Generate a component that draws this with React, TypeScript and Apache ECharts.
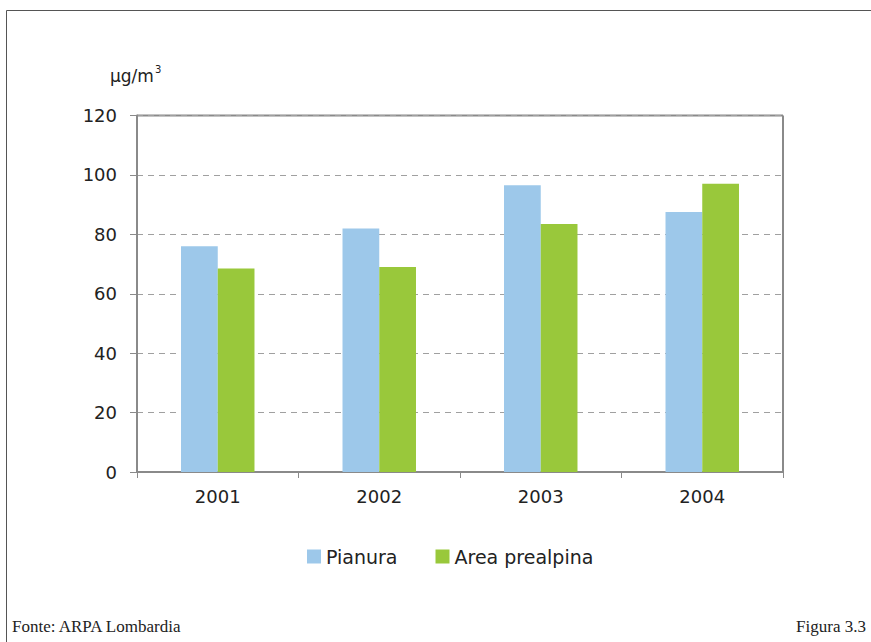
import React, { useEffect, useRef } from "react";
import * as echarts from "echarts";

// Annual values per zone (µg/m³)
const years = ["2001", "2002", "2003", "2004"];
const pianura = [76, 82, 96.5, 87.5];
const areaPrealpina = [68.5, 69, 83.5, 97];
const yTicks = { min: 0, max: 120, interval: 20 };

const W = 871;
const H = 642;

export default function App() {
  const ref = useRef<HTMLDivElement>(null);

  useEffect(() => {
    document.body.style.margin = "0";
    const chart = echarts.init(ref.current!, undefined, { renderer: "svg" });
    const axisFont = "DejaVu Sans, Verdana, sans-serif";
    const serif = "Liberation Serif, serif";
    chart.setOption({
      animation: false,
      backgroundColor: "#ffffff",
      grid: { left: 137, top: 115.5, width: 646, height: 356.5, containLabel: false },
      legend: {
        left: 302,
        top: 542,
        itemWidth: 14,
        itemHeight: 14,
        itemGap: 38,
        icon: "rect",
        textStyle: { fontFamily: axisFont, fontSize: 19, color: "#222", padding: [0, 0, 0, 0] },
        data: ["Pianura", "Area prealpina"],
      },
      xAxis: {
        type: "category",
        data: years,
        axisLine: { lineStyle: { color: "#8a8a8a", width: 2 } },
        axisTick: { show: true, length: 6, lineStyle: { color: "#8a8a8a" } },
        axisLabel: { fontFamily: axisFont, fontSize: 18, color: "#222", margin: 15 },
      },
      yAxis: {
        type: "value",
        min: yTicks.min,
        max: yTicks.max,
        interval: yTicks.interval,
        axisLine: { show: true, lineStyle: { color: "#8a8a8a", width: 2 } },
        axisTick: { show: true, length: 7, lineStyle: { color: "#8a8a8a" } },
        axisLabel: { fontFamily: axisFont, fontSize: 18, color: "#222", margin: 20 },
        splitLine: { show: true, lineStyle: { color: "#a0a0a0", width: 1, type: [6, 5] } },
      },
      series: [
        {
          name: "Pianura",
          type: "bar",
          data: pianura,
          barCategoryGap: "54.5%",
          barGap: "0%",
          itemStyle: { color: "#9dc8ea" },
        },
        {
          name: "Area prealpina",
          type: "bar",
          data: areaPrealpina,
          itemStyle: { color: "#99c83b" },
        },
      ],
      graphic: [
        // frame of the figure
        { type: "line", shape: { x1: 6.5, y1: 10.5, x2: W, y2: 10.5 }, style: { stroke: "#555", lineWidth: 1 } },
        { type: "line", shape: { x1: 6.5, y1: 10.5, x2: 6.5, y2: H }, style: { stroke: "#555", lineWidth: 1 } },
        // top and right border of the plot area
        { type: "line", shape: { x1: 137, y1: 115.5, x2: 783, y2: 115.5 }, style: { stroke: "#8a8a8a", lineWidth: 2 } },
        { type: "line", shape: { x1: 783, y1: 115.5, x2: 783, y2: 472 }, style: { stroke: "#8a8a8a", lineWidth: 2 } },
        {
          type: "text",
          left: 110,
          top: 64,
          style: {
            text: "{u|µg/m}{s|3}",
            rich: {
              u: { fontFamily: axisFont, fontSize: 17, fill: "#222", verticalAlign: "bottom" },
              s: { fontFamily: axisFont, fontSize: 10, fill: "#222", verticalAlign: "top", padding: [0, 0, 10, 1] },
            },
          },
        },
        {
          type: "text",
          left: 12,
          top: 618,
          style: { text: "Fonte: ARPA Lombardia", fontFamily: serif, fontSize: 17, fill: "#222" },
        },
        {
          type: "text",
          right: 5,
          top: 618,
          style: { text: "Figura 3.3", fontFamily: serif, fontSize: 17, fill: "#222" },
        },
      ],
    });
    return () => chart.dispose();
  }, []);

  return <div ref={ref} style={{ width: W, height: H }} />;
}
